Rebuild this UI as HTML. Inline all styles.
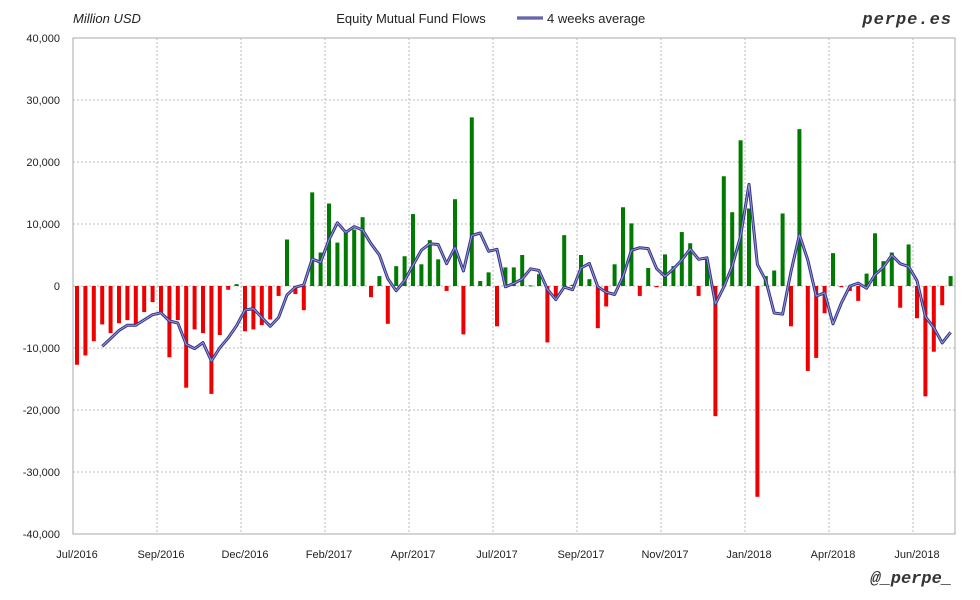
<!DOCTYPE html>
<html><head><meta charset="utf-8"><style>
html,body{margin:0;padding:0;background:#fff;}
svg{display:block;font-family:"Liberation Sans",sans-serif;}
</style></head><body>
<svg id="c" width="980" height="600" xmlns="http://www.w3.org/2000/svg">
<rect width="980" height="600" fill="#fff"/>
<g id="grid"></g>
<g id="bars"></g>
<g id="line"></g>
<rect x="73" y="38" width="882" height="496" fill="none" stroke="#aaa" stroke-width="1"/>
<g id="labels" font-size="11" fill="#222"></g>
<text x="73" y="23" font-size="13" font-style="italic" fill="#222">Million USD</text>
<text x="411" y="23" font-size="13" fill="#222" text-anchor="middle">Equity Mutual Fund Flows</text>
<line x1="517" y1="18" x2="543" y2="18" stroke="#333388" stroke-width="3"/>
<line x1="517" y1="18" x2="543" y2="18" stroke="#9a9ad6" stroke-width="1"/>
<text x="547" y="23" font-size="13" fill="#222">4 weeks average</text>
<text x="952" y="24" font-size="17" font-weight="bold" font-style="italic" fill="#333" text-anchor="end" font-family="Liberation Mono,monospace" letter-spacing="1">perpe.es</text>
<text x="952" y="583" font-size="17" font-weight="bold" font-style="italic" fill="#333" text-anchor="end" font-family="Liberation Mono,monospace">@_perpe_</text>
</svg>
<script>
var v=[-12700,-11200,-8900,-6200,-7600,-6000,-5500,-6200,-4200,-2600,-4300,-11500,-5500,-16400,-7000,-7600,-17400,-7900,-600,300,-7300,-7000,-6300,-5400,-1600,7500,-1300,-3900,15100,5400,13300,7000,8900,9100,11100,-1800,1600,-6100,3200,4800,11600,3500,7400,4300,-800,14000,-7800,27200,800,2200,-6500,3000,3000,5000,100,1900,-9100,-1700,8200,200,5000,1100,-6800,-3300,3500,12700,10100,-1600,2900,-200,5100,3200,8700,6900,-1600,4200,-21000,17700,11900,23500,12500,-34000,1600,2500,11700,-6500,25300,-13700,-11600,-4400,5300,-200,-800,-2400,2000,8500,4000,5400,-3500,6700,-5200,-17800,-10600,-3100,1600];
var NS="http://www.w3.org/2000/svg";
function el(p,t,a,txt){var e=document.createElementNS(NS,t);for(var k in a)e.setAttribute(k,a[k]);if(txt!=null)e.textContent=txt;document.getElementById(p).appendChild(e);return e;}
function Y(x){return 286+(-x)*0.0062;}
for(var i=0;i<=8;i++){var y=38+i*62;el('grid','line',{x1:73,x2:955,y1:y,y2:y,stroke:'#bbb','stroke-dasharray':'2,2'});
var val=40000-i*10000;var s=val.toLocaleString('en-US');el('labels','text',{x:60,y:y+4,'text-anchor':'end'},s);}
var ml=['Jul/2016','Sep/2016','Dec/2016','Feb/2017','Apr/2017','Jul/2017','Sep/2017','Nov/2017','Jan/2018','Apr/2018','Jun/2018'];
for(var j=0;j<11;j++){var x=73+j*84;if(j>0)el('grid','line',{x1:x,x2:x,y1:38,y2:534,stroke:'#bbb','stroke-dasharray':'2,2'});
el('labels','text',{x:x+4,y:558,'text-anchor':'middle'},ml[j]);}
for(var i=0;i<v.length;i++){var cx=77+8.4*i;var y0=286,y1=Y(v[i]);
el('bars','rect',{x:cx-2,y:Math.min(y0,y1),width:4,height:Math.max(1,Math.abs(y1-y0)),fill:v[i]>=0?'#007a00':'#ee0000'});}
var pts=[];for(var i=3;i<v.length;i++){var a=(v[i]+v[i-1]+v[i-2]+v[i-3])/4;pts.push((77+8.4*i).toFixed(1)+','+Y(a).toFixed(1));}
el('line','polyline',{points:pts.join(' '),fill:'none',stroke:'#333388','stroke-width':3,'stroke-linejoin':'round'});
el('line','polyline',{points:pts.join(' '),fill:'none',stroke:'#9a9ad6','stroke-width':1,'stroke-linejoin':'round'});
</script>
</body></html>
